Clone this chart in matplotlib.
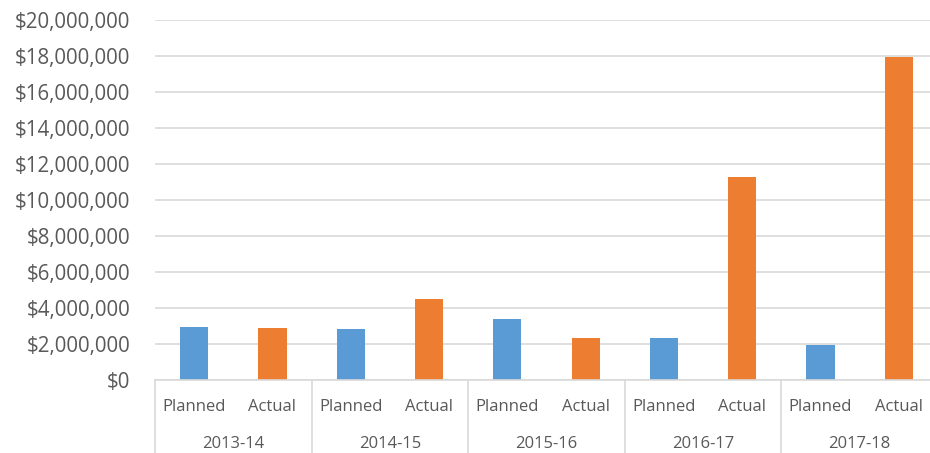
import matplotlib
matplotlib.use("Agg")
import matplotlib.pyplot as plt
import matplotlib.transforms as mtransforms
from matplotlib.ticker import FuncFormatter, MultipleLocator

years = ["2013-14", "2014-15", "2015-16", "2016-17", "2017-18"]
sub_labels = ["Planned", "Actual"]
planned = [2930000, 2810000, 3390000, 2310000, 1940000]
actual = [2890000, 4500000, 2330000, 11280000, 17940000]

blue = "#5B9BD5"
orange = "#ED7D31"
text_color = "#595959"
grid_color = "#D9D9D9"

plt.rcParams["font.family"] = ["Open Sans", "DejaVu Sans"]

fig = plt.figure(figsize=(9.3, 4.53), dpi=100)
ax = fig.add_axes([155 / 930, 1 - 380 / 453, 783 / 930, 360.5 / 453])

n = len(years)
xp = [2 * i for i in range(n)]
xa = [2 * i + 1 for i in range(n)]
w = 0.36
ax.bar(xp, planned, width=w, color=blue, zorder=3)
ax.bar(xa, actual, width=w, color=orange, zorder=3)

ax.set_xlim(-0.5, 2 * n - 0.5)
ax.set_ylim(0, 20000000)
ax.yaxis.set_major_locator(MultipleLocator(2000000))
ax.yaxis.set_major_formatter(FuncFormatter(lambda v, p: "${:,.0f}".format(v)))
ax.grid(axis="y", color=grid_color, linewidth=1.2, zorder=0)
ax.tick_params(axis="y", length=0, pad=18, labelsize=14.8, labelcolor=text_color)
ax.tick_params(axis="x", length=0, labelbottom=False)
for s in ["top", "right", "left"]:
    ax.spines[s].set_visible(False)
ax.spines["bottom"].set_color(grid_color)
ax.spines["bottom"].set_linewidth(1.2)
ax.spines["bottom"].set_zorder(4)

trans = mtransforms.blended_transform_factory(ax.transData, ax.transAxes)
for i in range(n + 1):
    xb = 2 * i - 0.5
    ax.plot([xb, xb], [0, -0.25], transform=trans, color=grid_color,
            linewidth=1.2, clip_on=False)
for i, yr in enumerate(years):
    for j, lab in enumerate(sub_labels):
        ax.text(2 * i + j, -0.074, lab, transform=trans, ha="center", va="center",
                fontsize=12, color=text_color)
    ax.text(2 * i + 0.5, -0.177, yr, transform=trans, ha="center", va="center",
            fontsize=12, color=text_color)

fig.savefig("out.png", dpi=100)
